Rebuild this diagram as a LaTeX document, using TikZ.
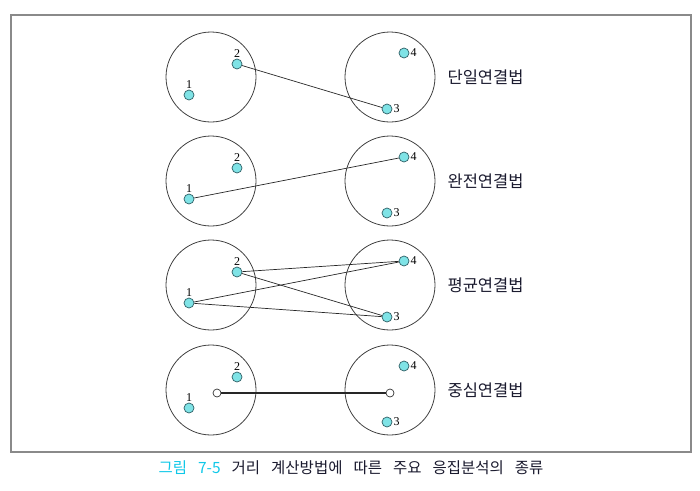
\documentclass[tikz,border=0pt]{standalone}
\usepackage{fontspec}
\usepackage{xcolor}
\usepackage{tikz}
\usetikzlibrary{positioning}
\setmainfont{Liberation Serif}
\newfontfamily\krfont{Noto Sans CJK KR}
\definecolor{framegray}{HTML}{8A8A8A}
\definecolor{objfill}{HTML}{7FE3E6}
\definecolor{objline}{HTML}{2F5F66}
\definecolor{captioncyan}{HTML}{10C8E8}
\definecolor{darktext}{HTML}{1A1A2E}
\newcommand{\capgap}{\hspace{11pt}}
\tikzset{
  cluster/.style={
    circle, draw=black!75, line width=0.8pt,
    minimum size=90pt, inner sep=0pt,
  },
  obj/.style={
    circle, draw=objline, line width=0.7pt,
    fill=objfill, minimum size=10pt, inner sep=0pt,
  },
  centroid/.style={
    circle, draw=black!80, line width=0.7pt,
    fill=white, minimum size=8pt, inner sep=0pt,
  },
  num/.style={font=\fontsize{12}{12}\selectfont, inner sep=1pt},
  method/.style={font=\krfont\fontsize{16.5}{16.5}\selectfont, text=darktext, inner sep=0pt, anchor=west},
  link/.style={line width=0.7pt, color=black!85},
  clink/.style={line width=1.2pt, color=black!85},
}
\begin{document}
\begin{tikzpicture}[x=1pt, y=-1pt]

  \useasboundingbox (0,0) rectangle (700,490);
  \draw[framegray, line width=2pt] (11,15) rectangle (691,452);

  % Single linkage
  \node[cluster] (sl) at (211,77) {};
  \node[cluster] (sr) at (390,77) {};
  \node[obj, label={[num]above:1}] (s1) at (189,95) {};
  \node[obj, label={[num]above:2}] (s2) at (237,64) {};
  \node[obj, label={[num]right:3}] (s3) at (387,109) {};
  \node[obj, label={[num]right:4}] (s4) at (404,53) {};
  \node[method, right=12pt of sr] (single) {단일연결법};

  % Complete linkage
  \node[cluster] (cl) at (211,181) {};
  \node[cluster] (cr) at (390,181) {};
  \node[obj, label={[num]above:1}] (c1) at (189,199) {};
  \node[obj, label={[num]above:2}] (c2) at (237,168) {};
  \node[obj, label={[num]right:3}] (c3) at (387,213) {};
  \node[obj, label={[num]right:4}] (c4) at (404,157) {};
  \node[method, right=12pt of cr] (complete) {완전연결법};

  % Average linkage
  \node[cluster] (al) at (211,285) {};
  \node[cluster] (ar) at (390,285) {};
  \node[obj, label={[num]above:1}] (a1) at (189,303) {};
  \node[obj, label={[num]above:2}] (a2) at (237,272) {};
  \node[obj, label={[num]right:3}] (a3) at (387,317) {};
  \node[obj, label={[num]right:4}] (a4) at (404,261) {};
  \node[method, right=12pt of ar] (average) {평균연결법};

  % Centroid linkage
  \node[cluster] (gl) at (211,390) {};
  \node[cluster] (gr) at (390,390) {};
  \node[obj, label={[num]above:1}] (g1) at (189,408) {};
  \node[obj, label={[num]above:2}] (g2) at (237,377) {};
  \node[obj, label={[num]right:3}] (g3) at (387,422) {};
  \node[obj, label={[num]right:4}] (g4) at (404,366) {};
  \node[centroid] (gcl) at (217,393) {};
  \node[centroid] (gcr) at (390,393) {};
  \node[method, right=12pt of gr] (centroidm) {중심연결법};

  % Links
  \draw[link] (s2) -- (s3);
  \draw[link] (c1) -- (c4);
  \draw[link] (a2) -- (a4);
  \draw[link] (a2) -- (a3);
  \draw[link] (a1) -- (a4);
  \draw[link] (a1) -- (a3);
  \draw[clink] (gcl) -- (gcr);

  % Caption
  \node[font=\krfont\fontsize{15.5}{15.5}\selectfont, text=darktext] (caption) at (351,468)
    {\textcolor{captioncyan}{그림\capgap 7-5}\capgap 거리\capgap 계산방법에\capgap 따른\capgap 주요\capgap 응집분석의\capgap 종류};

\end{tikzpicture}
\end{document}
